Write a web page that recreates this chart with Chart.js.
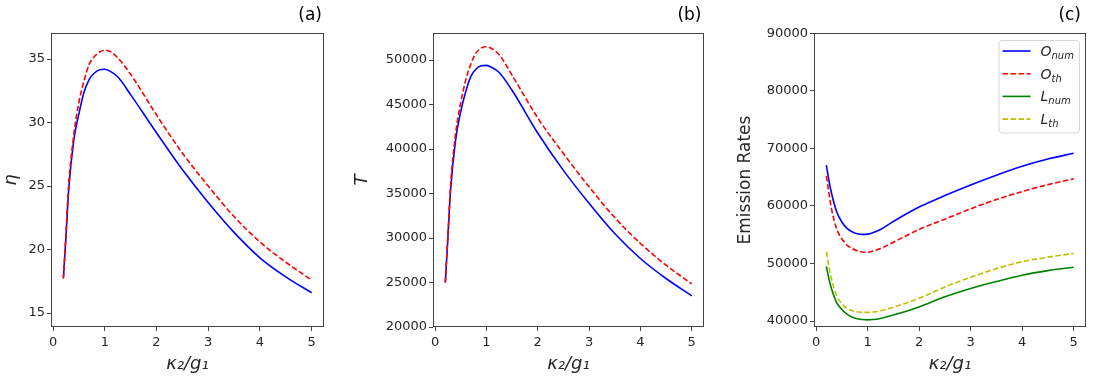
<!DOCTYPE html>
<html>
<head>
<meta charset="utf-8">
<script src="https://cdn.jsdelivr.net/npm/chart.js@4.4.1/dist/chart.umd.min.js"></script>
<style>
  html, body { margin: 0; padding: 0; background: #fff; }
  body { width: 1096px; height: 379px; position: relative; overflow: hidden; }
  canvas { position: absolute; top: 0; }
</style>
</head>
<body>
<canvas id="panelA" width="340" height="379" style="left:0px"></canvas>
<canvas id="panelB" width="370" height="379" style="left:350px"></canvas>
<canvas id="panelC" width="371" height="379" style="left:725px"></canvas>
<script>
// kappa_2 / g_1 sample points
const kappa = [0.2, 0.25, 0.3, 0.4, 0.5, 0.6, 0.7, 0.8, 0.9, 1.0, 1.1, 1.25, 1.5, 2.0, 2.5, 3.0, 3.5, 4.0, 4.5, 5.0];

// (a) eta
const etaNum = [17.8, 21.0, 24.6, 28.6, 30.7, 32.4, 33.4, 33.9, 34.15, 34.2, 34.05, 33.6, 32.2, 29.2, 26.3, 23.7, 21.35, 19.35, 17.85, 16.6];
const etaTh  = [17.7, 21.3, 25.0, 29.0, 31.6, 33.3, 34.6, 35.2, 35.55, 35.7, 35.6, 35.1, 33.8, 30.6, 27.6, 25.0, 22.6, 20.6, 19.0, 17.6];

// (b) T
const tNum = [25000, 30000, 35200, 41000, 44200, 46500, 48200, 49000, 49350, 49400, 49200, 48600, 46600, 41800, 37600, 33900, 30500, 27700, 25450, 23500];
const tTh  = [25000, 30300, 35700, 41700, 45200, 47800, 49600, 50800, 51350, 51500, 51300, 50600, 48300, 43500, 39500, 35750, 32300, 29400, 26950, 24850];

// (c) emission rates
const oNum = [67100, 64400, 62200, 59000, 57200, 56100, 55500, 55150, 55050, 55100, 55350, 55900, 57300, 59800, 61800, 63650, 65350, 66900, 68150, 69150];
const oTh  = [65200, 62200, 59500, 56000, 54300, 53200, 52600, 52200, 52000, 51950, 52150, 52600, 53700, 55900, 57700, 59500, 61100, 62500, 63700, 64700];
const lNum = [49500, 47300, 45600, 43200, 42000, 41200, 40700, 40400, 40250, 40200, 40250, 40450, 41050, 42450, 44200, 45650, 46850, 47950, 48750, 49350];
const lTh  = [52050, 49500, 47300, 44400, 43000, 42200, 41800, 41600, 41500, 41500, 41550, 41750, 42400, 43950, 45900, 47600, 49100, 50300, 51100, 51750];

// tick labels
const xTicks = [0, 1, 2, 3, 4, 5];
const etaTicks = [15, 20, 25, 30, 35];
const tTicks = [20000, 25000, 30000, 35000, 40000, 45000, 50000];
const rateTicks = [40000, 50000, 60000, 70000, 80000, 90000];

const FONT = "DejaVu Sans";
const INK = "#262626";
const SPINE = "#444";

function pts(ys) {
  return kappa.map((x, i) => ({ x: x, y: ys[i] }));
}

function line(label, ys, color, dashed, order) {
  return {
    label: label,
    data: pts(ys),
    borderColor: color,
    borderWidth: 1.6,
    borderDash: dashed ? [5.5, 2.5] : [],
    pointRadius: 0,
    fill: false,
    cubicInterpolationMode: "monotone",
    order: order
  };
}

// full box round the plot, like matplotlib spines
const framePlugin = {
  id: "frame",
  afterDraw(chart) {
    const { ctx, chartArea: a } = chart;
    ctx.save();
    ctx.strokeStyle = SPINE;
    ctx.lineWidth = 1;
    ctx.setLineDash([]);
    ctx.strokeRect(Math.round(a.left) + 0.5, Math.round(a.top) + 0.5,
      Math.round(a.right - a.left) - 1, Math.round(a.bottom - a.top) - 1);
    ctx.restore();
  }
};

// "(a)" "(b)" "(c)" tags
const tagPlugin = {
  id: "tag",
  afterDraw(chart, args, opts) {
    const { ctx, chartArea: a } = chart;
    ctx.save();
    ctx.font = "17px " + FONT;
    ctx.fillStyle = "#000";
    ctx.textAlign = "right";
    ctx.textBaseline = "middle";
    ctx.fillText(opts.text, a.right - opts.dx, 15.5);
    ctx.restore();
  }
};

// legend box inside panel (c)
const legendPlugin = {
  id: "boxLegend",
  afterDraw(chart, args, opts) {
    if (!opts.show) return;
    const { ctx, chartArea: a } = chart;
    const x0 = a.right - 87.5, y0 = a.top + 7, w = 80.5, h = 92.5;
    ctx.save();
    ctx.beginPath();
    ctx.roundRect(x0 + 0.5, y0 + 0.5, w, h, 3);
    ctx.fillStyle = "rgba(255,255,255,0.8)";
    ctx.fill();
    ctx.strokeStyle = "#d6d6d6";
    ctx.lineWidth = 1;
    ctx.stroke();
    chart.data.datasets.forEach((ds, i) => {
      const y = y0 + 11 + i * 22.7;
      ctx.beginPath();
      ctx.setLineDash(ds.borderDash);
      ctx.strokeStyle = ds.borderColor;
      ctx.lineWidth = ds.borderWidth;
      ctx.moveTo(x0 + 4, y);
      ctx.lineTo(x0 + 32, y);
      ctx.stroke();
      ctx.setLineDash([]);
      const parts = ds.label.split("_");
      ctx.fillStyle = INK;
      ctx.textBaseline = "alphabetic";
      ctx.textAlign = "left";
      ctx.font = "italic 14px " + FONT;
      ctx.fillText(parts[0], x0 + 42, y + 5);
      const wMain = ctx.measureText(parts[0]).width;
      ctx.font = "italic 10px " + FONT;
      ctx.fillText(parts[1], x0 + 42 + wMain, y + 8);
    });
    ctx.restore();
  }
};

function makePanel(id, cfg) {
  const tickFont = { family: FONT, size: 13 };
  new Chart(document.getElementById(id), {
    type: "line",
    data: { datasets: cfg.datasets },
    options: {
      responsive: false,
      animation: false,
      layout: { padding: { top: 33, right: cfg.padRight, left: 0, bottom: 0 } },
      plugins: {
        legend: { display: false },
        tooltip: { enabled: false },
        tag: { text: cfg.tag, dx: cfg.tagDx },
        boxLegend: { show: !!cfg.legend }
      },
      scales: {
        x: {
          type: "linear",
          min: -0.04,
          max: 5.24,
          afterBuildTicks: s => { s.ticks = xTicks.map(v => ({ value: v })); },
          afterFit: s => { s.height = 52; },
          border: { display: false },
          grid: { drawOnChartArea: false, drawTicks: true, tickLength: 4, color: SPINE },
          ticks: { font: tickFont, color: INK, padding: 4, maxRotation: 0, callback: v => String(v) },
          title: {
            display: true,
            text: "κ₂/g₁",
            font: { family: FONT, size: 18, style: "italic" },
            color: INK,
            padding: { top: 0, bottom: 4 }
          }
        },
        y: {
          type: "linear",
          min: cfg.yMin,
          max: cfg.yMax,
          afterBuildTicks: s => { s.ticks = cfg.yTicks.map(v => ({ value: v })); },
          afterFit: s => { s.width = cfg.yWidth; },
          border: { display: false },
          grid: { drawOnChartArea: false, drawTicks: true, tickLength: 4, color: SPINE },
          ticks: { font: tickFont, color: INK, padding: 2, callback: v => String(v) },
          title: {
            display: true,
            text: cfg.yTitle,
            font: { family: FONT, size: cfg.yTitleSize, style: cfg.yTitleStyle },
            color: INK,
            padding: { top: cfg.yTitlePad, bottom: 0 }
          }
        }
      }
    },
    plugins: [framePlugin, tagPlugin, legendPlugin]
  });
}

makePanel("panelA", {
  datasets: [line("η_num", etaNum, "#0000ff", false, 2), line("η_th", etaTh, "#ff0000", true, 1)],
  yMin: 13.9, yMax: 37.05, yTicks: etaTicks,
  yWidth: 51, padRight: 16,
  yTitle: "η", yTitleSize: 18, yTitleStyle: "italic", yTitlePad: 1,
  tag: "(a)", tagDx: 2
});

makePanel("panelB", {
  datasets: [line("T_num", tNum, "#0000ff", false, 2), line("T_th", tTh, "#ff0000", true, 1)],
  yMin: 20000, yMax: 53040, yTicks: tTicks,
  yWidth: 83, padRight: 16,
  yTitle: "T", yTitleSize: 18, yTitleStyle: "italic", yTitlePad: 2,
  tag: "(b)", tagDx: 2.5
});

makePanel("panelC", {
  datasets: [
    line("O_num", oNum, "#0000ff", false, 4),
    line("O_th", oTh, "#ff0000", true, 3),
    line("L_num", lNum, "#008000", false, 2),
    line("L_th", lTh, "#bfbf00", true, 1)
  ],
  yMin: 38960, yMax: 90050, yTicks: rateTicks,
  yWidth: 89, padRight: 10,
  yTitle: "Emission Rates", yTitleSize: 17, yTitleStyle: "normal", yTitlePad: 10,
  tag: "(c)", tagDx: 5,
  legend: true
});
</script>
</body>
</html>
